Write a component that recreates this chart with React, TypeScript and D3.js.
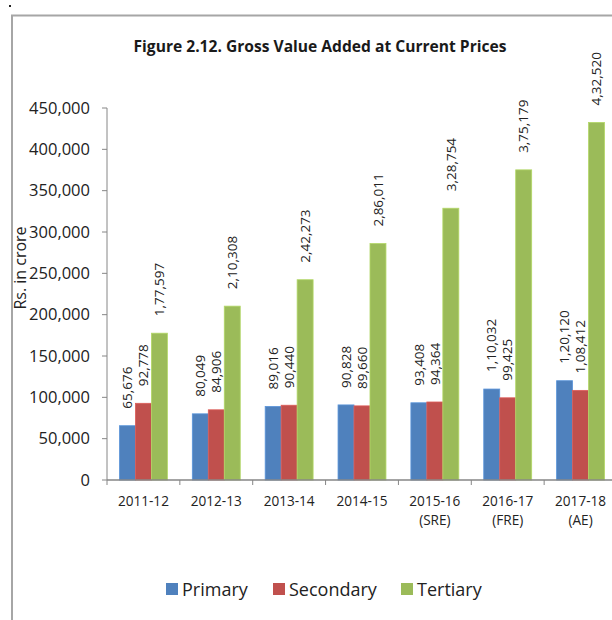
import React from 'react';
import * as d3 from 'd3';

const categories = ['2011-12', '2012-13', '2013-14', '2014-15', '2015-16\n(SRE)', '2016-17\n(FRE)', '2017-18\n(AE)'];
const seriesNames = ['Primary', 'Secondary', 'Tertiary'];
const primary = [65676, 80049, 89016, 90828, 93408, 110032, 120120];
const secondary = [92778, 84906, 90440, 89660, 94364, 99425, 108412];
const tertiary = [177597, 210308, 242273, 286011, 328754, 375179, 432520];
const yTicks = [0, 50000, 100000, 150000, 200000, 250000, 300000, 350000, 400000, 450000];
const colors = ['#4f81bd', '#c0504d', '#9bbb59'];

const W = 612, H = 620;
const margin = { top: 108, right: -5, bottom: 140, left: 107 };
const FONT = "'Open Sans', 'Liberation Sans', sans-serif";

// indian grouping: 1,77,597
const fmtIN = (n: number) => {
  const s = String(n);
  if (s.length <= 3) return s;
  const last3 = s.slice(-3);
  let rest = s.slice(0, -3);
  const parts: string[] = [];
  while (rest.length > 2) {
    parts.unshift(rest.slice(-2));
    rest = rest.slice(0, -2);
  }
  if (rest) parts.unshift(rest);
  return parts.join(',') + ',' + last3;
};

const App = () => {
  const series = [primary, secondary, tertiary];
  const rows = categories.map((c, i) => ({ cat: c, values: series.map(s => s[i]) }));

  const x = d3.scaleBand<string>()
    .domain(categories)
    .range([margin.left, W - margin.right])
    .paddingInner(0)
    .paddingOuter(0);

  const xs = d3.scaleBand<string>()
    .domain(seriesNames)
    .range([0, x.bandwidth()])
    .paddingInner(0)
    .paddingOuter(0.78);

  const y = d3.scaleLinear()
    .domain([0, 450000])
    .range([H - margin.bottom, margin.top]);

  const fmtTick = d3.format(',');
  const axisColor = '#868686';
  const y0 = y(0);

  const legendItems = [
    { name: 'Primary', x: 166 },
    { name: 'Secondary', x: 273 },
    { name: 'Tertiary', x: 401 },
  ];

  return (
    <svg width={W} height={H} style={{ position: 'absolute', left: 0, top: 0, background: '#fff' }} fontFamily={FONT}>
      {/* page frame */}
      <rect x={9} y={5} width={2} height={2} fill="#222" />
      <line x1={11} x2={W} y1={15.5} y2={15.5} stroke="#a6a6a6" strokeWidth={2} />
      <line x1={12} x2={12} y1={15} y2={H} stroke="#a6a6a6" strokeWidth={2} />

      <text x={320} y={52} textAnchor="middle" fontWeight="bold" fontSize={15.6} fill="#1a1a1a">
        Figure 2.12. Gross Value Added at Current Prices
      </text>

      {/* y axis */}
      <line x1={margin.left} x2={margin.left} y1={y(450000)} y2={y0} stroke={axisColor} />
      {yTicks.map(t => (
        <g key={t}>
          <line x1={margin.left - 5} x2={margin.left} y1={y(t)} y2={y(t)} stroke={axisColor} />
          <text x={90} y={y(t)} dy="0.35em" textAnchor="end" fontSize={16.5} fill="#222">
            {fmtTick(t)}
          </text>
        </g>
      ))}
      <text transform={`translate(20,268) rotate(-90)`} textAnchor="middle" dy="0.35em" fontSize={16} fill="#222">
        Rs. in crore
      </text>

      {/* bars */}
      {rows.map(r => (
        <g key={r.cat} transform={`translate(${x(r.cat)},0)`}>
          {r.values.map((v, j) => {
            const bx = xs(seriesNames[j])!;
            const cx = bx + xs.bandwidth() / 2;
            return (
              <g key={j}>
                <rect x={bx} y={y(v)} width={xs.bandwidth()} height={y0 - y(v)} fill={colors[j]}
                  stroke={d3.color(colors[j])!.brighter(0.4).toString()} strokeWidth={0.8} />
                <text transform={`translate(${cx},${y(v) - 17}) rotate(-90)`} dy="0.35em" fontSize={13.5} fill="#222">
                  {fmtIN(v)}
                </text>
              </g>
            );
          })}
        </g>
      ))}

      {/* x axis */}
      <line x1={margin.left} x2={W} y1={y0} y2={y0} stroke={axisColor} strokeWidth={1.5} />
      {categories.map(c => {
        const cx = x(c)! + x.bandwidth() / 2;
        return (
          <g key={c}>
            <line x1={x(c)} x2={x(c)} y1={y0} y2={y0 + 5} stroke={axisColor} />
            {c.split('\n').map((ln, k) => (
              <text key={k} x={cx} y={506 + k * 19} textAnchor="middle" fontSize={13.6} fill="#222">
                {ln}
              </text>
            ))}
          </g>
        );
      })}

      {/* legend */}
      {legendItems.map((it, i) => (
        <g key={it.name}>
          <rect x={it.x} y={583} width={12} height={12} fill={colors[i]} />
          <text x={it.x + 16} y={596} fontSize={18} fill="#222">{it.name}</text>
        </g>
      ))}
    </svg>
  );
};

export default App;
